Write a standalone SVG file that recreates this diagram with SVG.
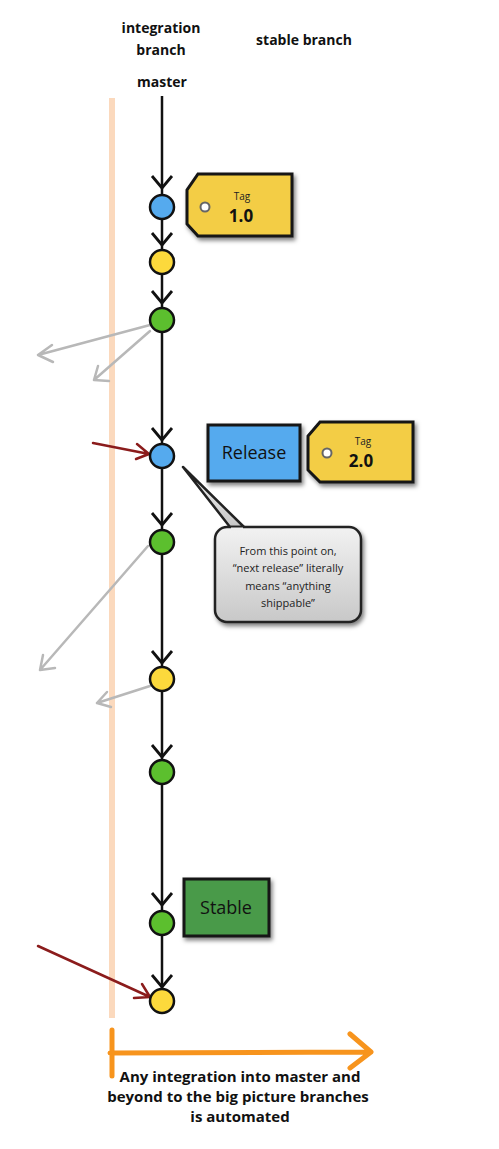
<svg xmlns="http://www.w3.org/2000/svg" width="499" height="1149" viewBox="0 0 499 1149">
<style>
.hd{font-family:"Open Sans","Liberation Sans",sans-serif;font-weight:bold;font-size:14px;fill:#111;text-anchor:middle}
.ft{font-family:"Open Sans","Liberation Sans",sans-serif;font-weight:bold;font-size:15px;fill:#111;text-anchor:middle}
.main{stroke:#111;stroke-width:2.5;fill:none}
.gray{stroke:#b8b8b8;stroke-width:2.5;fill:none;stroke-linecap:round;stroke-linejoin:round}
.red{stroke:#8b1c1c;stroke-width:2.5;fill:none;stroke-linecap:round;stroke-linejoin:round}
.node{stroke:#111;stroke-width:2.5}
.blue{fill:#55aaee}.yellow{fill:#fcd93c}.green{fill:#5cbf2e}
.tag{fill:#f3cd45;stroke:#151515;stroke-width:3;filter:url(#sh)}
.tagt{font-family:"Open Sans","Liberation Sans",sans-serif;font-size:10px;fill:#222;text-anchor:middle}
.tagn{font-family:"Open Sans","Liberation Sans",sans-serif;font-size:17px;font-weight:bold;fill:#111;text-anchor:middle}
.lbl{font-family:"Open Sans","Liberation Sans",sans-serif;font-size:18px;fill:#111;text-anchor:middle}
.note{font-family:"Open Sans","Liberation Sans",sans-serif;font-size:11px;fill:#222;text-anchor:middle}
</style>
<defs>
<path id="chev" d="M-10,-12 L0,0 L10,-12" fill="none" stroke="#111" stroke-width="2.8" stroke-linejoin="miter"/>
<filter id="sh" x="-20%" y="-20%" width="140%" height="150%"><feDropShadow dx="2" dy="3" stdDeviation="2" flood-color="#000" flood-opacity="0.5"/></filter>
<linearGradient id="ng" x1="0" y1="0" x2="0" y2="1"><stop offset="0" stop-color="#f2f2f2"/><stop offset="1" stop-color="#c8c8c8"/></linearGradient>
</defs>
<rect width="499" height="1149" fill="#fff"/>
<line x1="112" y1="98" x2="112" y2="1018" stroke="#fbd9bd" stroke-width="6"/>
<g id="headers">
<text class="hd" x="161" y="33">integration</text>
<text class="hd" x="161" y="55">branch</text>
<text class="hd" x="162" y="87">master</text>
<text class="hd" x="304" y="45">stable branch</text>
</g>
<g id="connectors">
<line class="main" x1="162" y1="96" x2="162" y2="195"/>
<line class="main" x1="162" y1="220" x2="162" y2="250"/>
<line class="main" x1="162" y1="275" x2="162" y2="308"/>
<line class="main" x1="162" y1="333" x2="162" y2="444"/>
<line class="main" x1="162" y1="469" x2="162" y2="529"/>
<line class="main" x1="162" y1="554" x2="162" y2="666"/>
<line class="main" x1="162" y1="691" x2="162" y2="760"/>
<line class="main" x1="162" y1="785" x2="162" y2="911"/>
<line class="main" x1="162" y1="936" x2="162" y2="989"/>
<use href="#chev" x="162" y="188"/>
<use href="#chev" x="162" y="245"/>
<use href="#chev" x="162" y="303"/>
<use href="#chev" x="162" y="440"/>
<use href="#chev" x="162" y="525"/>
<use href="#chev" x="162" y="663"/>
<use href="#chev" x="162" y="757"/>
<use href="#chev" x="162" y="905"/>
<use href="#chev" x="162" y="987"/>
<path class="gray" d="M150,325 L38,355 M52,345 L38,355 L53,362"/>
<path class="gray" d="M150,331 L94,380 M98,366 L94,380 L109,381"/>
<path class="gray" d="M148,546 L40,670 M43,655 L40,670 L55,668"/>
<path class="gray" d="M150,686 L97,703 M107,692 L97,703 L111,707"/>
<path class="red" d="M93,443 L149,454 M137,444 L149,454 L136,459"/>
<path class="red" d="M38,946 L150,997 M142,984 L150,997 L134,998"/>
</g>
<g id="n1"><circle class="node blue" cx="162" cy="207" r="12"/></g>
<g id="n2"><circle class="node yellow" cx="162" cy="262" r="12"/></g>
<g id="n3"><circle class="node green" cx="162" cy="320" r="12"/></g>
<g id="n4"><circle class="node blue" cx="162" cy="456" r="12"/></g>
<g id="n5"><circle class="node green" cx="162" cy="542" r="12"/></g>
<g id="n6"><circle class="node yellow" cx="162" cy="679" r="12"/></g>
<g id="n7"><circle class="node green" cx="162" cy="772" r="12"/></g>
<g id="n8"><circle class="node green" cx="162" cy="923" r="12"/></g>
<g id="n9"><circle class="node yellow" cx="162" cy="1001" r="12"/></g>
<g id="tag1">
<path class="tag" d="M198,174 L292,174 L292,236 L198,236 L187,224 L187,190 Z"/>
<circle cx="205" cy="207" r="4.5" fill="#fff" stroke="#666" stroke-width="2"/>
<text class="tagt" x="242" y="200">Tag</text>
<text class="tagn" x="241" y="222">1.0</text>
</g>
<g id="release">
<rect x="208" y="425" width="92" height="56" fill="#55aaee" stroke="#151515" stroke-width="3" filter="url(#sh)"/>
<text class="lbl" x="254" y="459">Release</text>
</g>
<g id="tag2">
<path class="tag" d="M320,422 L413,422 L413,482 L320,482 L308,470 L308,436 Z"/>
<circle cx="327" cy="453" r="4.5" fill="#fff" stroke="#666" stroke-width="2"/>
<text class="tagt" x="363" y="445">Tag</text>
<text class="tagn" x="361" y="467">2.0</text>
</g>
<g id="note">
<path d="M230,527 L183,467 L244,527 Z" fill="url(#ng)" stroke="#222" stroke-width="2.5" stroke-linejoin="round"/>
<rect x="215" y="527" width="146" height="95" rx="12" fill="url(#ng)" stroke="#222" stroke-width="2.5" filter="url(#sh)"/>
<line x1="231" y1="529" x2="243" y2="529" stroke="#efefef" stroke-width="3"/>
<text class="note" x="288" y="555">From this point on,</text>
<text class="note" x="288" y="572">“next release” literally</text>
<text class="note" x="288" y="590">means “anything</text>
<text class="note" x="288" y="607">shippable”</text>
</g>
<g id="stable">
<rect x="184" y="879" width="85" height="57" fill="#4a9a4a" stroke="#151515" stroke-width="3" filter="url(#sh)"/>
<text class="lbl" x="226" y="914">Stable</text>
</g>
<g id="footer">
<path d="M112,1030 L112,1076 M110,1053 L365,1052 M350,1034 L371,1052 L350,1068" fill="none" stroke="#f7941d" stroke-width="5" stroke-linecap="round" stroke-linejoin="round"/>
<text class="ft" x="240" y="1082">Any integration into master and</text>
<text class="ft" x="238" y="1102">beyond to the big picture branches</text>
<text class="ft" x="240" y="1122">is automated</text>
</g>
</svg>
